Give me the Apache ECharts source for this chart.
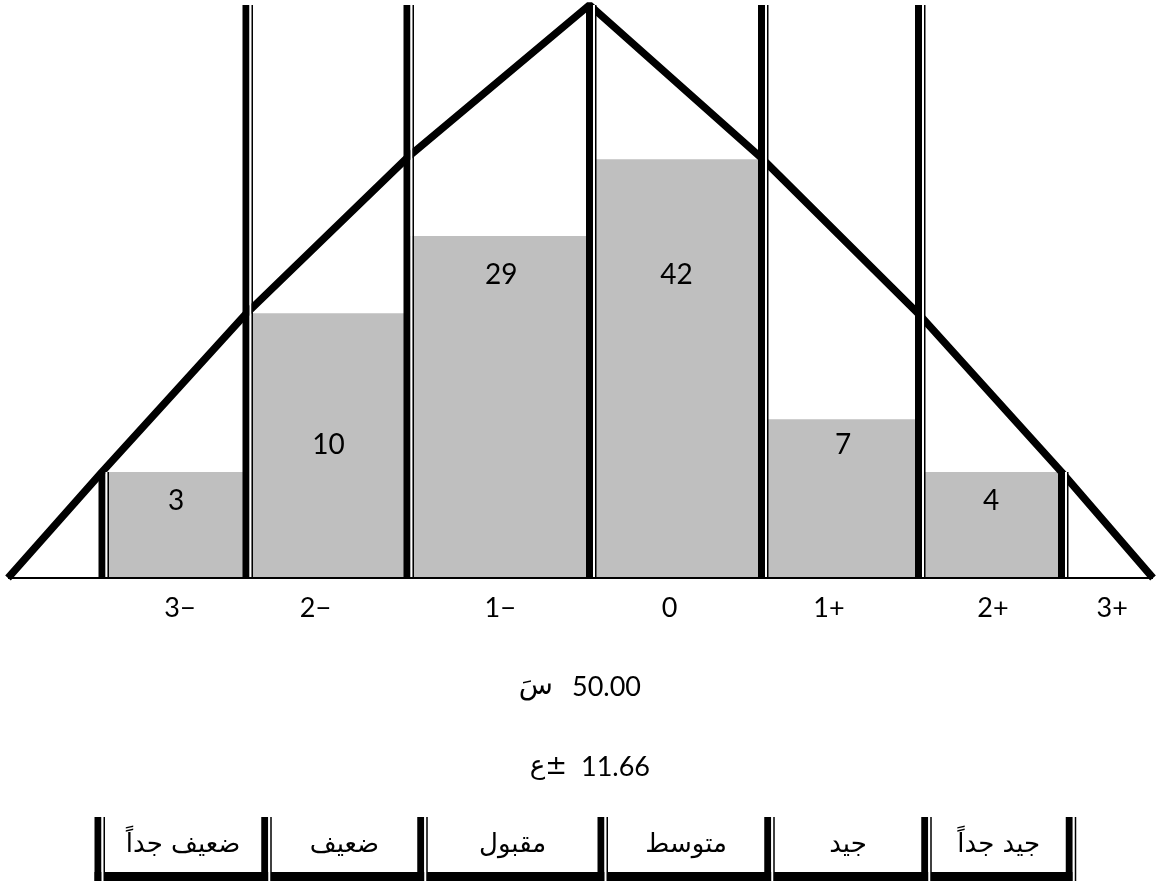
<!DOCTYPE html>
<html>
<head>
<meta charset="utf-8">
<script src="https://cdn.jsdelivr.net/npm/echarts@6/dist/echarts.min.js"></script>
<style>
html,body{margin:0;padding:0;background:#fff;}
#c{width:1161px;height:881px;}
</style>
</head>
<body>
<div id="c"></div>
<script>
// ---------------- DATA ----------------
const scoreLabels = ["3−", "2−", "1−", "0", "1+", "2+", "3+"];
const counts = [3, 10, 29, 42, 7, 4];
// class boundaries along the horizontal axis (axis units 0..1161)
const binEdges = [102, 246, 407, 589.5, 761.5, 918.5, 1061.5];
// drawn bar heights, % of the curve peak
const barHeights = [18.5, 46.2, 59.7, 73.1, 27.7, 18.5];
// the normal-curve outline (x in axis units, y in % of peak)
const curveX = [8, 102, 246, 407, 589.5, 761.5, 918.5, 1061.5, 1153];
const curveY = [0, 18.5, 46.1, 73.3, 100, 73.3, 46.1, 18.5, 0];
// statistics
const meanSymbol = "سَ";
const meanValue = "50.00";
const sdSymbol = "ع±";
const sdValue = "11.66";
// grade table under the chart (visual order, left to right)
const gradeLabels = ["ضعيف جداً", "ضعيف", "مقبول", "متوسط", "جيد", "جيد جداً"];
const gradeEdges = [98, 264.75, 420.75, 601, 767.75, 924.75, 1069.25];

// ---------------- STYLE ----------------
const X_MAX = 1161, Y_MAX = 100;
const GREY = '#bfbfbf';
const NUM_FONT = 'Lato, "Open Sans", sans-serif';
const AR_FONT = '"DejaVu Sans", sans-serif';
const THICK = 7, GAP = 2, THIN = 1.5;
const labelDrop = [29, 132, 39, 116, 26, 29];       // px below each bar top
const countShift = [2, 2, 3, 1, 3, 1];              // px horizontal nudge of counts
const tickShift = [6, -11, 2, -6, -11, 3, 5];       // px horizontal nudge of tick labels
const TICK_GAP = 30;                                 // px below baseline

function rule(x, yTop, yBottom, thinBottom) {
  const tb = (thinBottom === undefined) ? yBottom : thinBottom;
  return [
    {type: 'rect', shape: {x: x - THICK / 2, y: yTop, width: THICK, height: yBottom - yTop}, style: {fill: '#000'}},
    {type: 'rect', shape: {x: x + THICK / 2, y: yTop, width: GAP, height: yBottom - yTop}, style: {fill: '#fff'}},
    {type: 'rect', shape: {x: x + THICK / 2 + GAP, y: yTop, width: THIN, height: tb - yTop}, style: {fill: '#000'}}
  ];
}

const allEdges = binEdges.concat([curveX[curveX.length - 1]]);
const lastEdge = binEdges.length - 1;

const chart = echarts.init(document.getElementById('c'));
chart.setOption({
  animation: false,
  backgroundColor: '#fff',
  grid: [
    {left: 0, right: 0, top: 5, bottom: 303},
    {left: 0, right: 0, top: 817, bottom: 0}
  ],
  xAxis: [
    {type: 'value', gridIndex: 0, min: 0, max: X_MAX, show: false},
    {type: 'value', gridIndex: 1, min: 0, max: X_MAX, show: false}
  ],
  yAxis: [
    {type: 'value', gridIndex: 0, min: 0, max: Y_MAX, show: false},
    {type: 'value', gridIndex: 1, min: 0, max: 1, show: false}
  ],
  series: [
    // grey bars with their counts
    {
      type: 'custom', xAxisIndex: 0, yAxisIndex: 0, z: 1, silent: true, clip: false,
      encode: {x: [0, 1], y: 2},
      data: counts.map((c, i) => [binEdges[i], binEdges[i + 1], barHeights[i]]),
      renderItem: function (params, api) {
        const i = params.dataIndex;
        const p0 = api.coord([api.value(0), 0]);
        const p1 = api.coord([api.value(1), api.value(2)]);
        return {
          type: 'group', children: [
            {type: 'rect', shape: {x: p0[0], y: p1[1], width: p1[0] - p0[0], height: p0[1] - p1[1]}, style: {fill: GREY}},
            {type: 'text', x: (p0[0] + p1[0]) / 2 + countShift[i], y: p1[1] + labelDrop[i],
              style: {text: String(counts[i]), fill: '#000', font: '28px ' + NUM_FONT, align: 'center', verticalAlign: 'middle'}}
          ]
        };
      }
    },
    // curve outline
    {
      type: 'line', xAxisIndex: 0, yAxisIndex: 0, z: 2, silent: true, clip: true,
      data: curveX.map((x, i) => [x, curveY[i]]),
      symbol: 'none',
      lineStyle: {color: '#000', width: 7.5, join: 'bevel', cap: 'butt'}
    },
    // class boundary rules
    {
      type: 'custom', xAxisIndex: 0, yAxisIndex: 0, z: 3, silent: true, clip: false,
      encode: {x: 0, y: 1},
      data: binEdges.map((e, i) => [e, (i === 0 || i === lastEdge) ? curveY[curveX.indexOf(e)] : Y_MAX]),
      renderItem: function (params, api) {
        const top = api.coord([api.value(0), api.value(1)]);
        const bot = api.coord([api.value(0), 0]);
        return {type: 'group', children: rule(bot[0], top[1], bot[1])};
      }
    },
    // baseline
    {
      type: 'line', xAxisIndex: 0, yAxisIndex: 0, z: 4, silent: true, clip: false,
      data: [[curveX[0], 0], [curveX[curveX.length - 1], 0]],
      symbol: 'none',
      lineStyle: {color: '#000', width: 2}
    },
    // tick labels under each class
    {
      type: 'custom', xAxisIndex: 0, yAxisIndex: 0, z: 5, silent: true, clip: false,
      encode: {x: [0, 1], y: 2},
      data: scoreLabels.map((t, i) => [allEdges[i], allEdges[i + 1], 0]),
      renderItem: function (params, api) {
        const i = params.dataIndex;
        const c = api.coord([(api.value(0) + api.value(1)) / 2, 0]);
        return {type: 'text', x: c[0] + tickShift[i], y: c[1] + TICK_GAP,
          style: {text: scoreLabels[i], fill: '#000', font: '27px ' + NUM_FONT, align: 'center', verticalAlign: 'middle'}};
      }
    },
    // grade table: bottom band + cell texts
    {
      type: 'custom', xAxisIndex: 1, yAxisIndex: 1, z: 1, silent: true, clip: false,
      encode: {x: [0, 1], y: 2},
      data: gradeLabels.map((g, i) => [gradeEdges[i], gradeEdges[i + 1], 1]),
      renderItem: function (params, api) {
        const i = params.dataIndex;
        const a = api.coord([api.value(0), 1]);
        const b = api.coord([api.value(1), 0]);
        const innerL = a[0] + THICK / 2 + GAP + THIN;
        const innerR = b[0] - THICK / 2;
        return {
          type: 'group', children: [
            {type: 'rect', shape: {x: a[0] - THICK / 2, y: b[1] - 9, width: b[0] - a[0] + THICK + GAP + THIN, height: 9}, style: {fill: '#000'}},
            {type: 'text', x: (innerL + innerR) / 2, y: (a[1] + b[1] - 9) / 2 + 1,
              style: {text: gradeLabels[i], fill: '#000', font: '26px ' + AR_FONT, align: 'center', verticalAlign: 'middle'}}
          ]
        };
      }
    },
    // grade table: rules
    {
      type: 'custom', xAxisIndex: 1, yAxisIndex: 1, z: 2, silent: true, clip: false,
      encode: {x: 0, y: 1},
      data: gradeEdges.map(e => [e, 1]),
      renderItem: function (params, api) {
        const top = api.coord([api.value(0), 1]);
        const bot = api.coord([api.value(0), 0]);
        return {type: 'group', children: rule(top[0], top[1], bot[1], bot[1] - 9)};
      }
    }
  ],
  graphic: [
    {type: 'text', x: 553, y: 687, style: {text: meanSymbol, fill: '#000', font: '28px ' + AR_FONT, align: 'right', verticalAlign: 'middle'}},
    {type: 'text', x: 572, y: 687, style: {text: meanValue, fill: '#000', font: '27px ' + NUM_FONT, align: 'left', verticalAlign: 'middle'}},
    {type: 'text', x: 567, y: 767, style: {text: sdSymbol, fill: '#000', font: '26px ' + AR_FONT, align: 'right', verticalAlign: 'middle'}},
    {type: 'text', x: 581, y: 767, style: {text: sdValue, fill: '#000', font: '27px ' + NUM_FONT, align: 'left', verticalAlign: 'middle'}}
  ]
});
</script>
</body>
</html>
